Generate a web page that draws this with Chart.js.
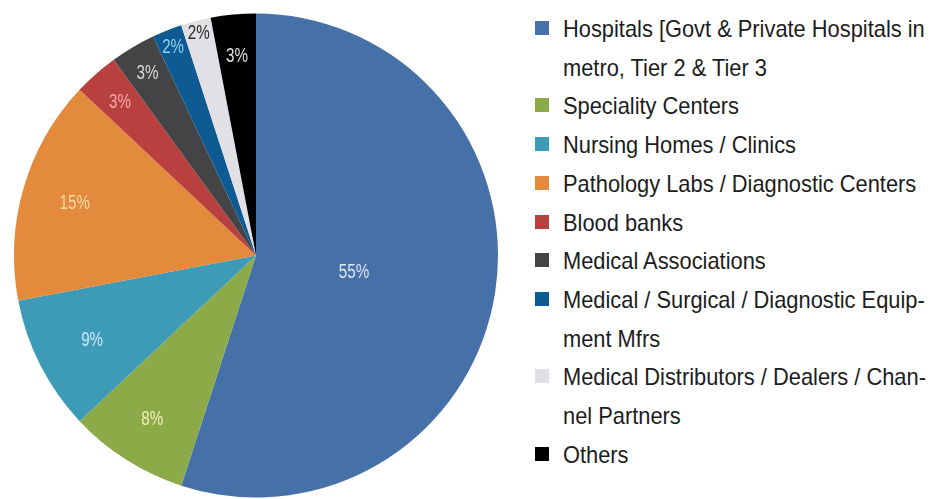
<!DOCTYPE html>
<html>
<head>
<meta charset="utf-8">
<script src="https://cdn.jsdelivr.net/npm/chart.js@4"></script>
<style>
  body { margin: 0; background: #fff; width: 941px; height: 499px; overflow: hidden; position: relative; }
  #pie-box { position: absolute; left: 0; top: 0; width: 512px; height: 499px; }
  #legend { position: absolute; left: 535px; top: 10px; width: 406px; margin: 0; padding: 0; list-style: none;
            font-family: "Liberation Sans", Arial, sans-serif; font-size: 24px; line-height: 38.7px; color: #1c1c1c; }
  #legend li { position: relative; padding-left: 28px; }
  #legend li .caja { position: absolute; left: 0; top: 11px; width: 14px; height: 14px; }
  #legend li .texto { display: block; width: 408px; transform: scaleX(0.91); transform-origin: 0 0; hyphens: manual; }
</style>
</head>
<body>
<div id="pie-box"><canvas id="grafico-pie"></canvas></div>
<ul id="legend"></ul>
<script>
// Datos del gráfico
const categorias = [
    'Hospitals [Govt & Private Hospitals in metro, Tier 2 & Tier 3',
    'Speciality Centers',
    'Nursing Homes / Clinics',
    'Pathology Labs / Diagnostic Centers',
    'Blood banks',
    'Medical Associations',
    'Medical / Surgical / Diagnostic Equip\u00adment Mfrs',
    'Medical Distributors / Dealers / Chan\u00adnel Partners',
    'Others'
];
const porcentajes = [55, 8, 9, 15, 3, 3, 2, 2, 3];

// Estilos
const colores = ['#4671a8', '#8caa48', '#3d9bb8', '#e38a3c', '#b8413f', '#444446', '#0e5a93', '#e1e1e5', '#000000'];
const coloresEtiqueta = ['#dde6f2', '#eef3b8', '#c9e9f6', '#f8d9a6', '#f5aaa8', '#d8d8d8', '#8fd2f2', '#2a2a2a', '#e0e0e0'];
const radioEtiqueta = [0.41, 0.80, 0.76, 0.78, 0.85, 0.88, 0.93, 0.95, 0.83];

// Plugin para dibujar los porcentajes dentro de cada sector
const etiquetasPie = {
    id: 'etiquetasPie',
    afterDatasetsDraw(chart) {
        const ctx = chart.ctx;
        const arcos = chart.getDatasetMeta(0).data;
        arcos.forEach((arco, i) => {
            const p = arco.getProps(['x', 'y', 'startAngle', 'endAngle', 'outerRadius'], true);
            const medio = (p.startAngle + p.endAngle) / 2;
            const r = p.outerRadius * radioEtiqueta[i];
            ctx.save();
            ctx.translate(p.x + Math.cos(medio) * r, p.y + Math.sin(medio) * r);
            ctx.scale(0.76, 1); // letra estrecha
            ctx.font = '20px "Liberation Sans", Arial, sans-serif';
            ctx.textAlign = 'center';
            ctx.textBaseline = 'middle';
            ctx.fillStyle = coloresEtiqueta[i];
            ctx.fillText(porcentajes[i] + '%', 0, 1);
            ctx.restore();
        });
    }
};

const grafico = new Chart(document.getElementById('grafico-pie'), {
    type: 'pie',
    data: {
        labels: categorias,
        datasets: [{
            data: porcentajes,
            backgroundColor: colores,
            borderWidth: 0
        }]
    },
    options: {
        responsive: true,
        maintainAspectRatio: false,
        animation: false,
        layout: { padding: { left: 14, right: 14, top: 13, bottom: 1 } },
        plugins: {
            legend: { display: false },
            tooltip: { enabled: false }
        }
    },
    plugins: [etiquetasPie]
});

// Leyenda en HTML (permite el ajuste de líneas)
const leyenda = document.getElementById('legend');
categorias.forEach((nombre, i) => {
    const li = document.createElement('li');
    li.innerHTML = `<span class="caja" style="background:${colores[i]}"></span><span class="texto">${nombre}</span>`;
    leyenda.appendChild(li);
});
</script>
</body>
</html>
